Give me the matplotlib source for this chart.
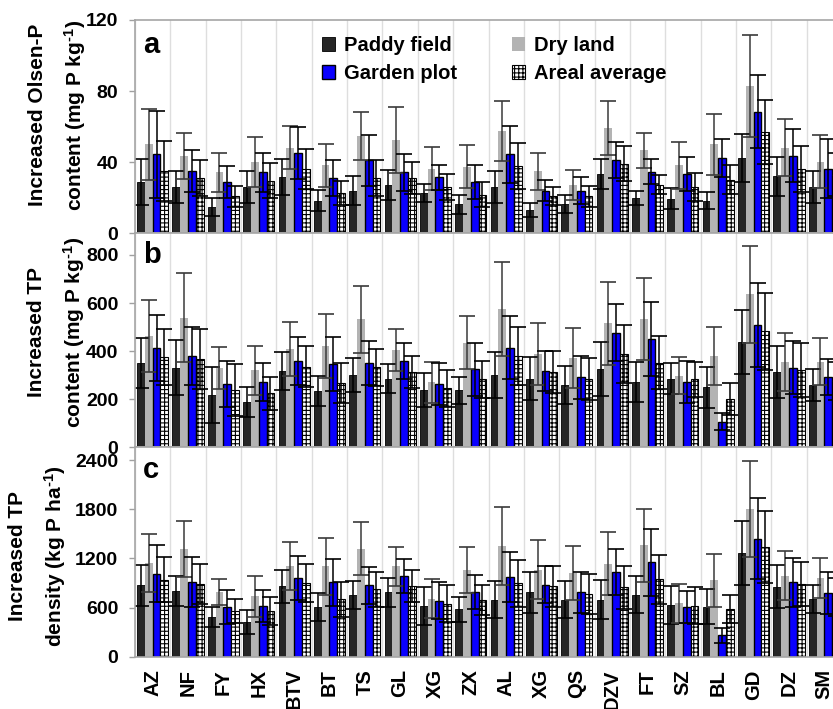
import numpy as np
import matplotlib
matplotlib.use('Agg')
import matplotlib.pyplot as plt

plt.rcParams['font.family'] = ['Liberation Sans', 'DejaVu Sans']
plt.rcParams['font.weight'] = 'bold'
plt.rcParams['mathtext.fontset'] = 'custom'
plt.rcParams['mathtext.rm'] = 'Liberation Sans:bold'
plt.rcParams['mathtext.bf'] = 'Liberation Sans:bold'
plt.rcParams['mathtext.default'] = 'bf'
plt.rcParams['hatch.linewidth'] = 0.8

sites = ['AZ', 'NF', 'FY', 'HX', 'BTV', 'BT', 'TS', 'GL', 'XG', 'ZX',
         'AL', 'XG', 'QS', 'DZV', 'FT', 'SZ', 'BL', 'GD', 'DZ', 'SM']
series = ['Paddy field', 'Dry land', 'Garden plot', 'Areal average']

# panel a: increased Olsen-P (mg P kg-1)
paddy_a = [28.7, 26, 15, 26, 31.6, 18.3, 24, 27.2, 22.7, 16.4, 26, 13.2, 16.4, 33.6, 20, 19.5, 18.3, 42.3, 32, 26]
paddy_a_err = [13, 9, 5, 9, 10, 6, 8, 8.3, 5, 5.3, 9, 4, 5, 8.4, 4, 6, 4.7, 13.3, 11, 9]
dry_a = [50, 43.5, 34.4, 40, 48.2, 38.2, 54.5, 52.5, 36.3, 37.4, 57.5, 35, 27.2, 59.2, 46.7, 38.2, 50, 82.8, 48.2, 40.3]
dry_a_err = [20, 13, 11, 14, 12, 12, 13.5, 18.5, 12, 12, 17, 10.4, 8.5, 15, 10, 13, 17, 28.7, 16, 15]
garden_a = [44.4, 35, 29, 34.4, 45.4, 31.2, 41, 34.4, 31.5, 28.7, 44.4, 24, 24, 41.2, 34.6, 33.5, 42.3, 68.4, 43.7, 36.3]
garden_a_err = [24.6, 12, 9, 11, 14.6, 10, 14.4, 10.4, 7, 9.5, 16, 6, 7.5, 10, 7, 9.6, 10.5, 20.5, 15, 16.5]
areal_a = [35, 31, 20.8, 29.7, 36.3, 22.7, 31, 31, 26, 21.7, 37.8, 20.8, 20.8, 39.2, 27.4, 26, 30.2, 57, 36.3, 33]
areal_a_err = [17, 10, 6, 10, 11.4, 7, 10, 9, 7.5, 7, 13, 5, 6, 10, 5.3, 8, 8, 18, 12.8, 12]

# panel b: increased TP content (mg P kg-1)
paddy_b = [349, 331, 216, 189, 318, 234, 300, 286, 238, 238, 300, 286, 259, 326, 273, 286, 250, 437, 313, 259]
paddy_b_err = [104, 114, 117, 63, 79, 64, 70, 61, 70, 56, 97, 88, 79, 111, 83, 66, 86, 134, 110, 67]
dry_b = [463, 539, 330, 320, 409, 421, 532, 405, 270, 435, 574, 388, 373, 516, 534, 298, 380, 636, 356, 356]
dry_b_err = [150, 185, 89, 103, 112, 134, 139, 86, 86, 111, 196, 128, 125, 173, 169, 76, 122, 201, 121, 97]
garden_b = [412, 380, 263, 272, 358, 347, 352, 360, 263, 324, 415, 318, 291, 477, 451, 272, 107, 509, 331, 291]
garden_b_err = [138, 122, 97, 80, 100, 111, 92, 75, 86, 109, 129, 83, 90, 119, 155, 88, 37, 173, 111, 75]
areal_b = [376, 367, 238, 225, 336, 269, 333, 313, 245, 283, 380, 313, 283, 388, 352, 283, 201, 482, 322, 275]
areal_b_err = [118, 125, 109, 69, 86, 83, 77, 68, 77, 77, 122, 88, 87, 119, 111, 73, 65, 161, 111, 80]

# panel c: increased TP density (kg P ha-1)
paddy_c = [869, 804, 490, 424, 857, 604, 751, 784, 616, 576, 694, 784, 694, 694, 755, 629, 612, 1265, 853, 706]
paddy_c_err = [245, 184, 122, 143, 204, 172, 167, 179, 229, 151, 224, 253, 224, 237, 225, 228, 212, 388, 261, 172]
dry_c = [1143, 1314, 788, 735, 1106, 1102, 1318, 1102, 710, 1061, 1347, 1061, 1020, 1135, 1359, 653, 931, 1804, 988, 959]
dry_c_err = [355, 339, 159, 253, 298, 351, 323, 237, 241, 278, 478, 359, 327, 384, 445, 237, 326, 584, 298, 245]
garden_c = [1012, 910, 608, 620, 963, 910, 869, 988, 682, 788, 971, 878, 788, 1033, 1151, 604, 261, 1441, 906, 776]
garden_c_err = [347, 306, 208, 196, 270, 286, 225, 208, 228, 212, 303, 224, 249, 281, 408, 196, 94, 494, 298, 261]
areal_c = [939, 886, 555, 559, 898, 702, 820, 861, 649, 690, 898, 857, 763, 845, 947, 620, 580, 1339, 882, 730]
areal_c_err = [277, 245, 143, 168, 233, 212, 209, 192, 220, 179, 286, 245, 245, 257, 298, 225, 167, 441, 269, 230]

W, H = 833, 709
fig = plt.figure(figsize=(W / 100, H / 100), dpi=100)


def px_axes(left, top, right, bottom):
    return fig.add_axes([left / W, 1 - bottom / H, (right - left) / W, (bottom - top) / H])


ax_a = px_axes(135, 20, 842, 233.3)
ax_b = px_axes(135, 233.3, 842, 447.3)
ax_c = px_axes(135, 447.3, 842, 656.7)

x = np.arange(len(sites)) + 0.5
bw = 0.22
styles = [
    dict(color='#262626', edgecolor='black', linewidth=0.6),
    dict(color='#b3b3b3', edgecolor='none', linewidth=0),
    dict(color='#0a00ff', edgecolor='black', linewidth=1.0),
    dict(color='white', edgecolor='black', linewidth=0.8, hatch='++++'),
]
ecolors = ['black', '#3a3a3a', 'black', 'black']

panels = [
    (ax_a, [paddy_a, dry_a, garden_a, areal_a], [paddy_a_err, dry_a_err, garden_a_err, areal_a_err],
     (0, 120), [0, 40, 80, 120], 'a', 0.845),
    (ax_b, [paddy_b, dry_b, garden_b, areal_b], [paddy_b_err, dry_b_err, garden_b_err, areal_b_err],
     (0, 890), [0, 200, 400, 600, 800], 'b', 0.86),
    (ax_c, [paddy_c, dry_c, garden_c, areal_c], [paddy_c_err, dry_c_err, garden_c_err, areal_c_err],
     (0, 2555), [0, 600, 1200, 1800, 2400], 'c', 0.853),
]

handles = []
for ax, vals, errs, ylim, yt, letter, ly in panels:
    for i in range(4):
        b = ax.bar(x + (i - 1.5) * bw, vals[i], width=bw, yerr=errs[i], capsize=6,
                   error_kw=dict(ecolor=ecolors[i], elinewidth=1.1, capthick=1.2),
                   zorder=2, **styles[i])
        if ax is ax_a:
            handles.append(b)
    ax.set_xlim(0, 20)
    ax.set_ylim(*ylim)
    ax.set_yticks(yt)
    ax.set_xticks(np.arange(21), minor=True)
    ax.grid(which='minor', axis='x', color='#dedede', linewidth=1)
    ax.set_axisbelow(True)
    ax.tick_params(axis='y', length=4, width=1, color='#a0a0a0', labelsize=14, pad=8)
    ax.tick_params(axis='x', which='both', length=0)
    for s in ['left', 'bottom', 'top']:
        ax.spines[s].set_color('#a6a6a6')
        ax.spines[s].set_linewidth(1.2)
    ax.spines['right'].set_visible(False)
    ax.text(0.0113, ly, letter, transform=ax.transAxes, fontsize=21, fontweight='bold',
            va='baseline', ha='left')

ax_a.set_xticks(x)
ax_a.set_xticklabels([])
ax_b.set_xticks(x)
ax_b.set_xticklabels([])
ax_c.set_xticks(x)
ax_c.set_xticklabels(sites, rotation=90, fontsize=14.5, fontweight='bold')
ax_c.tick_params(axis='x', pad=9)

ylabels = [('Increased Olsen-P\ncontent (mg P kg$^{\\text{-1}}$)', 58, 115),
           ('Increased TP\ncontent (mg P kg$^{\\text{-1}}$)', 57, 332),
           ('Increased TP\ndensity (kg P ha$^{\\text{-1}}$)', 38, 556)]
for txt, lx, ly in ylabels:
    fig.text(lx / W, 1 - ly / H, txt, rotation=90, ha='center', va='center',
             fontsize=15, fontweight='bold', linespacing=1.75, multialignment='center')

order = [0, 2, 1, 3]
ax_a.legend([handles[k] for k in order], [series[k] for k in order], ncol=2,
            loc='upper left', bbox_to_anchor=(0.2645, 0.925), frameon=False,
            fontsize=14.5, handlelength=0.65, handleheight=0.65, handletextpad=0.45,
            columnspacing=2.7, labelspacing=0.45, borderaxespad=0, borderpad=0)

fig.savefig('out.png', dpi=100)
